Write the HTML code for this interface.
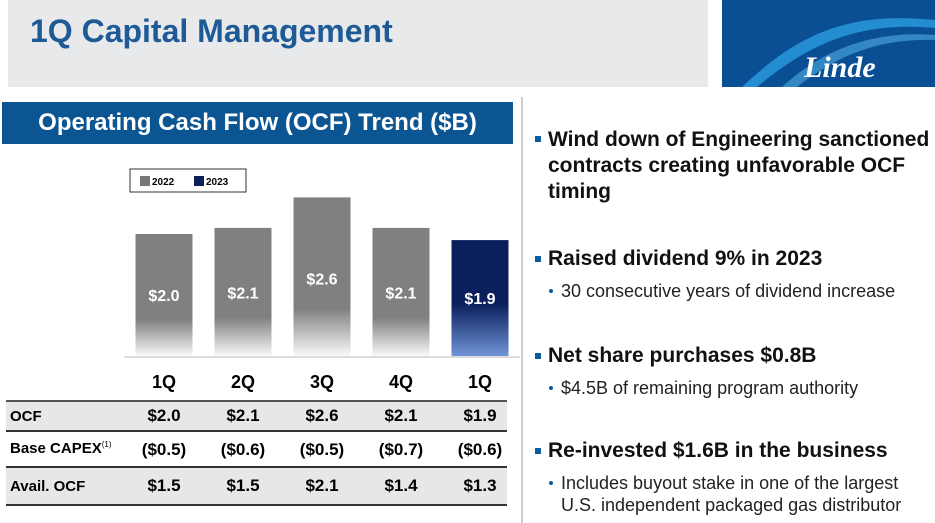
<!DOCTYPE html>
<html><head><meta charset="utf-8"><style>
body{margin:0;width:935px;height:523px;background:#fff;position:relative;overflow:hidden;font-family:"Liberation Sans",Arial,sans-serif}
.abs{position:absolute;white-space:nowrap}
.b{font-weight:bold}
.h1{left:8px;top:0;width:700px;height:87px;background:#e8e9eb}
.bul{position:absolute;left:535px;width:6px;height:6px;background:#0a5aa0}
.bt{position:absolute;left:548px;font-size:21px;font-weight:bold;line-height:26px;color:#111;white-space:nowrap}
.sb{position:absolute;left:561px;font-size:18px;line-height:22px;color:#222;white-space:nowrap}
.dot{position:absolute;left:549px;width:4px;height:4px;border-radius:2px;background:#0a5aa0}
</style></head><body>
<div class="abs h1"></div>
<div class="abs b" style="left:30px;top:13px;font-size:32px;color:#1d5a96">1Q Capital Management</div>
<div class="abs" style="left:722px;top:0;width:213px;height:87px;background:#0a4f94;overflow:hidden">
<svg width="213" height="87"><path d="M20 87 C70 40 120 10 213 20 L213 28 C130 20 80 50 35 87Z" fill="#2a9be0" opacity="0.8"/><path d="M60 87 C100 50 150 30 213 35 L213 40 C150 38 110 60 75 87Z" fill="#5cc0f0" opacity="0.5"/>
<text x="82" y="77" font-family="Liberation Serif,serif" font-style="italic" font-weight="bold" font-size="30" fill="#fff">Linde</text></svg></div>
<div class="abs" style="left:521px;top:97px;width:2px;height:426px;background:#ccc"></div>
<div class="abs b" style="left:2px;top:102px;width:511px;height:42px;background:#0a5592;color:#fff;font-size:24px;line-height:42px;text-align:center">Operating Cash Flow (OCF) Trend ($B)</div>
<svg class="abs" style="left:0;top:0" width="520" height="523" id="chart">
<defs>
<linearGradient id="gg" x1="0" y1="0" x2="0" y2="1"><stop offset="0.7" stop-color="#808080"/><stop offset="1" stop-color="#808080" stop-opacity="0.05"/></linearGradient>
<linearGradient id="bg" x1="0" y1="0" x2="0" y2="1"><stop offset="0.55" stop-color="#0b1f5c"/><stop offset="1" stop-color="#6f94d6"/></linearGradient>
</defs>
<rect x="130" y="169" width="116" height="23" fill="#fff" stroke="#333"/>
<rect x="140" y="176" width="10" height="10" fill="#777"/>
<text x="152" y="185" font-size="10" font-weight="bold">2022</text>
<rect x="194" y="176" width="10" height="10" fill="#0b1f5c"/>
<text x="206" y="185" font-size="10" font-weight="bold">2023</text>
<line x1="124" y1="357" x2="520" y2="357" stroke="#ddd" stroke-width="2"/>
<g id="bars"></g>
</svg>
<div class="abs" style="left:0;top:360px">
<div class="abs" style="left:6px;top:41px;width:501px;height:30px;background:#e6e7e9"></div>
<div class="abs" style="left:6px;top:107px;width:501px;height:38px;background:#e6e7e9"></div>
<div class="abs" style="left:6px;top:40px;width:501px;height:2px;background:#555"></div>
<div class="abs" style="left:6px;top:70px;width:501px;height:2px;background:#333"></div>
<div class="abs" style="left:6px;top:106px;width:501px;height:2px;background:#333"></div>
<div class="abs" style="left:6px;top:144px;width:501px;height:2px;background:#333"></div>
<div id="tbl"></div>
</div>
<div class="bul" style="top:136px"></div>
<div class="bt" style="top:127px">Wind down of Engineering sanctioned<br>contracts creating unfavorable OCF<br>timing</div>
<div class="bul" style="top:256px"></div>
<div class="bt" style="top:246px">Raised dividend 9% in 2023</div>
<div class="dot" style="top:289px"></div>
<div class="sb" style="top:280px">30 consecutive years of dividend increase</div>
<div class="bul" style="top:353px"></div>
<div class="bt" style="top:343px">Net share purchases $0.8B</div>
<div class="dot" style="top:386px"></div>
<div class="sb" style="top:377px">$4.5B of remaining program authority</div>
<div class="bul" style="top:448px"></div>
<div class="bt" style="top:438px">Re-invested $1.6B in the business</div>
<div class="dot" style="top:481px"></div>
<div class="sb" style="top:472px">Includes buyout stake in one of the largest<br>U.S. independent packaged gas distributor</div>
<script>
const categories=["1Q","2Q","3Q","4Q","1Q"];
const years=["2022","2022","2022","2022","2023"];
const ocf=[2.0,2.1,2.6,2.1,1.9];
const capex=[-0.5,-0.6,-0.5,-0.7,-0.6];
const avail=[1.5,1.5,2.1,1.4,1.3];
const NS="http://www.w3.org/2000/svg";
const x0=164,step=79,bw=57,base=356,scale=61;
const xPos=i=>x0+i*step;
const yPos=v=>base-v*scale;
const fmt=v=>v<0?"($"+(-v).toFixed(1)+")":"$"+v.toFixed(1);
const g=document.getElementById('bars');
ocf.forEach((v,i)=>{
 const r=document.createElementNS(NS,'rect');
 r.setAttribute('x',xPos(i)-bw/2);r.setAttribute('y',yPos(v));
 r.setAttribute('width',bw);r.setAttribute('height',base-yPos(v));
 r.setAttribute('fill',years[i]==="2023"?"url(#bg)":"url(#gg)");
 
 
 g.appendChild(r);
 const t=document.createElementNS(NS,'text');
 t.setAttribute('x',xPos(i));t.setAttribute('y',yPos(v)+v*scale*0.55);
 t.setAttribute('text-anchor','middle');t.setAttribute('fill','#fff');
 t.setAttribute('font-size','16');t.setAttribute('font-weight','bold');
 t.textContent=fmt(v);
 
 
 g.appendChild(t);
});
const tb=document.getElementById('tbl');
function cell(txt,x,y,anchor,name,sz){
 const d=document.createElement('div');
 d.className='abs b';d.style.top=y+'px';d.style.fontSize=(sz||17)+'px';
 if(anchor==='c'){d.style.left=(x-40)+'px';d.style.width='80px';d.style.textAlign='center';}else d.style.left=x+'px';
 d.innerHTML=txt;
 
 
 tb.appendChild(d);
}
categories.forEach((c,i)=>cell(c,xPos(i),12,'c','col-header-'+(i+1),18));
cell('OCF',10,48,'l','row-label-ocf',15);
cell('Base CAPEX<sup style="font-size:8px;font-weight:normal">(1)</sup>',10,80,'l','row-label-capex',15);
cell('Avail. OCF',10,118,'l','row-label-avail',15);
ocf.forEach((v,i)=>cell(fmt(v),xPos(i),46,'c','ocf-'+(i+1)));
capex.forEach((v,i)=>cell(fmt(v),xPos(i),80,'c','capex-'+(i+1)));
avail.forEach((v,i)=>cell(fmt(v),xPos(i),116,'c','avail-'+(i+1)));
</script>
</body></html>
